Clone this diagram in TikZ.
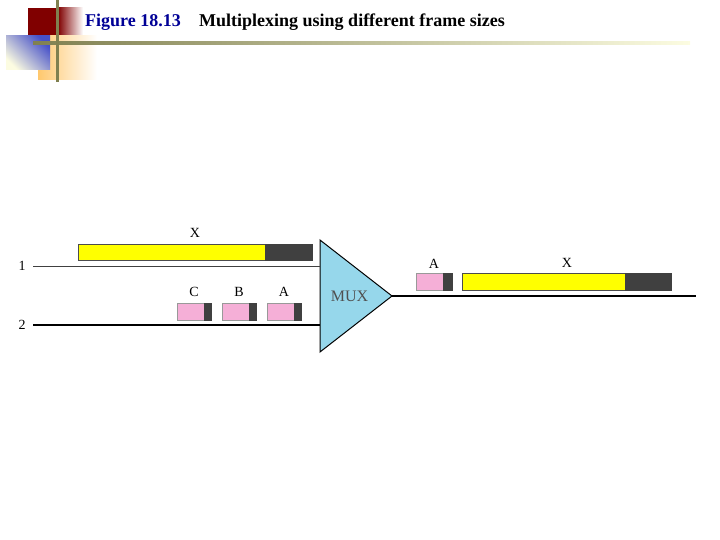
\documentclass[tikz,border=0pt]{standalone}
\usepackage{fontspec}
\setmainfont{Liberation Serif}
\definecolor{darkred}{RGB}{128,0,0}
\definecolor{olive}{RGB}{128,128,80}
\definecolor{paleyel}{RGB}{252,252,225}
\definecolor{orangey}{RGB}{255,200,110}
\definecolor{bluesq}{RGB}{70,80,200}
\definecolor{titleblue}{RGB}{0,0,150}
\definecolor{frameyel}{RGB}{255,255,0}
\definecolor{framedark}{RGB}{64,64,64}
\definecolor{framepink}{RGB}{245,175,215}
\definecolor{muxblue}{RGB}{150,215,235}
\definecolor{muxtext}{RGB}{80,80,80}
\begin{document}
\begin{tikzpicture}[x=1pt,y=-1pt,
  lbl/.style={font=\fontsize{14}{14}\selectfont, inner sep=0pt},
  wire/.style={line width=1.3pt, black},
  yelbody/.style={fill=frameyel, draw=black!70, line width=0.4pt},
  pinkbody/.style={fill=framepink, draw=black!40, line width=0.4pt},
  tailbox/.style={fill=framedark, draw=framedark, line width=0.4pt}]
\useasboundingbox (0,0) rectangle (720,540);
% decorations
\fill[darkred] (28,8) rectangle (58,42);
\shade[left color=darkred, right color=white] (58,8) rectangle (83,42);
\shade[left color=orangey, right color=white] (38,36) rectangle (97,80);
\shade[left color=paleyel, right color=bluesq, shading angle=135] (6,36) rectangle (50,70);
\shade[left color=olive, right color=paleyel] (33,41.5) rectangle (690,44.5);
\fill[olive] (55.5,0) rectangle (58.5,82);
% title
\node[anchor=west, inner sep=0pt, text=titleblue, font=\bfseries\fontsize{18}{18}\selectfont] (fig) at (85,22) {Figure 18.13};
\node[anchor=west, inner sep=0pt, font=\bfseries\fontsize{18}{18}\selectfont] (title) at (199,22) {Multiplexing using different frame sizes};
% mux
\coordinate (mt) at (320,240);
\coordinate (mb) at (320,352);
\coordinate (mtip) at (392,296);
\draw[fill=muxblue, line width=1pt] (mt) -- (mtip) -- (mb) -- cycle;
\node[lbl, text=muxtext, font=\fontsize{16}{16}\selectfont] (mux) at (349.5,296) {MUX};
% input lines
\node[lbl] (in1) at (22,266) {1};
\node[lbl] (in2) at (22,325) {2};
\coordinate (e1) at (320,266);
\coordinate (e2) at (320,325);
\draw[line width=1pt, black!75] (33,266) -- (e1);
\draw[wire] (33,325) -- (e2);
% output line
\coordinate (outend) at (696,296);
\draw[wire] (mtip) -- (outend);
% input frame X
\draw[yelbody] (78,244) rectangle (265,260);
\draw[tailbox] (265,244) rectangle (312,260);
\node[lbl] (x1) at (195,233) {X};
% input frames C B A
\foreach \n/\xx in {C/177, B/222, A/267} {
  \draw[pinkbody] (\xx,303) rectangle (\xx+27,320);
  \draw[tailbox] (\xx+27,303) rectangle (\xx+34,320);
  \node[lbl] (l\n) at (\xx+17,292) {\n};
}
% output frames
\draw[pinkbody] (416,273) rectangle (443,290);
\draw[tailbox] (443,273) rectangle (452,290);
\node[lbl] (oa) at (434,264) {A};
\draw[yelbody] (462,273) rectangle (625,290);
\draw[tailbox] (625,273) rectangle (671,290);
\node[lbl] (ox) at (567,263) {X};
\end{tikzpicture}
\end{document}
